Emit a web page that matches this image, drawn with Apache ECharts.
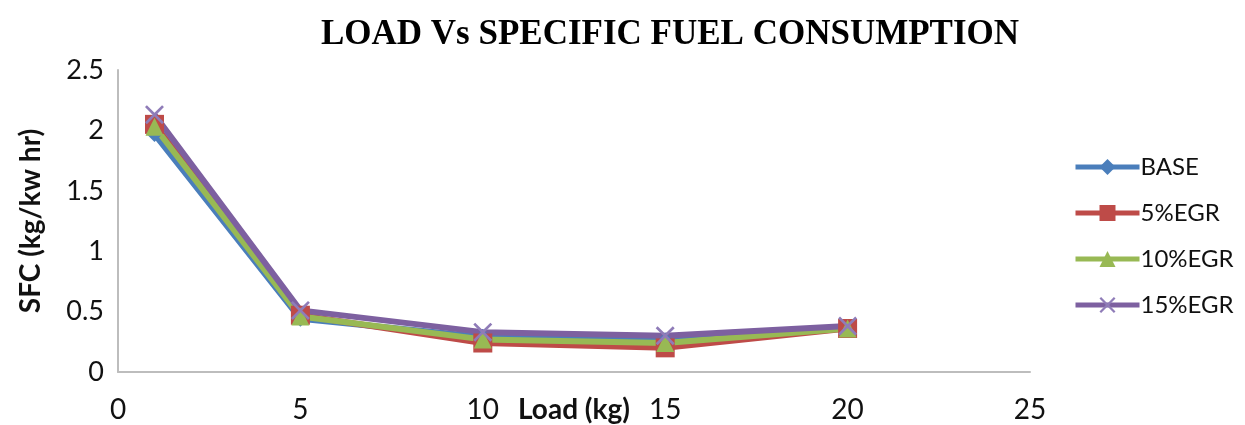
<!DOCTYPE html>
<html>
<head>
<meta charset="utf-8">
<script src="https://cdn.jsdelivr.net/npm/echarts@6/dist/echarts.min.js"></script>
<style>
  html, body { margin: 0; padding: 0; background: #fff; }
  #chart { width: 1245px; height: 425px; }
</style>
</head>
<body>
<div id="chart"></div>
<script>
// Engine load (kg) against specific fuel consumption for each EGR rate
const loads = [1, 5, 10, 15, 20];
const base = [1.97, 0.44, 0.29, 0.26, 0.37];
const egr5 = [2.05, 0.47, 0.24, 0.20, 0.36];
const egr10 = [2.03, 0.46, 0.27, 0.24, 0.36];
const egr15 = [2.13, 0.51, 0.33, 0.30, 0.38];
const seriesNames = ['BASE', '5%EGR', '10%EGR', '15%EGR'];

const labelFont = 'Lato, "Open Sans", sans-serif';
const crossPath = 'path://M0,1 L1,0 L5,4 L9,0 L10,1 L6,5 L10,9 L9,10 L5,6 L1,10 L0,9 L4,5 Z';

function pairs(values) {
  return loads.map((x, i) => [x, values[i]]);
}

function lineSeries(name, values, color, symbol, symbolSize, markerColor) {
  return {
    name: name,
    type: 'line',
    data: pairs(values),
    symbol: symbol,
    symbolSize: symbolSize,
    showAllSymbol: true,
    lineStyle: { color: color, width: 6 },
    itemStyle: { color: markerColor || color, borderColor: markerColor || color, borderWidth: 0 },
    emphasis: { disabled: true },
    z: 2
  };
}

const chart = echarts.init(document.getElementById('chart'), null, { renderer: 'canvas' });
chart.setOption({
  animation: false,
  backgroundColor: '#ffffff',
  title: {
    text: 'LOAD Vs SPECIFIC FUEL CONSUMPTION',
    left: 665,
    textAlign: 'center',
    top: 12,
    textStyle: {
      fontFamily: '"Liberation Serif", "Times New Roman", serif',
      fontWeight: 'bold',
      fontSize: 35,
      color: '#000'
    }
  },
  legend: {
    orient: 'vertical',
    left: 1068,
    top: 150,
    itemWidth: 64,
    itemHeight: 20,
    itemGap: 22,
    lineStyle: { width: 5 },
    textStyle: { fontFamily: labelFont, fontSize: 24, lineHeight: 24, color: '#111', padding: [0, 0, 0, -4] },
    data: seriesNames
  },
  grid: { left: 118, right: 215, top: 70, bottom: 53, outerBoundsMode: 'none', containLabel: false },
  xAxis: {
    type: 'value',
    min: 0,
    max: 25,
    interval: 5,
    name: 'Load (kg)',
    nameLocation: 'middle',
    nameGap: 24,
    nameMoveOverlap: false,
    nameTextStyle: { fontFamily: labelFont, fontWeight: 'bold', fontSize: 28, color: '#111' },
    axisLine: { show: true, onZero: false, lineStyle: { color: '#bdbdbd', width: 2 } },
    axisTick: { show: false },
    axisLabel: { margin: 24, fontFamily: labelFont, fontSize: 28, color: '#111' },
    splitLine: { show: false }
  },
  yAxis: {
    type: 'value',
    min: 0,
    max: 2.5,
    interval: 0.5,
    name: 'SFC (kg/kw hr)',
    nameLocation: 'middle',
    nameGap: 73,
    nameMoveOverlap: false,
    nameTextStyle: { fontFamily: labelFont, fontWeight: 'bold', fontSize: 28, color: '#111' },
    axisLine: { show: true, lineStyle: { color: '#bdbdbd', width: 2 } },
    axisTick: { show: false },
    axisLabel: { margin: 14, fontFamily: labelFont, fontSize: 27, color: '#111' },
    splitLine: { show: false }
  },
  series: [
    lineSeries('BASE', base, '#4a7ebb', 'diamond', 16),
    lineSeries('5%EGR', egr5, '#be4b48', 'rect', 19),
    lineSeries('10%EGR', egr10, '#98b954', 'triangle', 18),
    lineSeries('15%EGR', egr15, '#7d60a0', crossPath, 19, '#8f7cb8')
  ]
});
</script>
</body>
</html>
